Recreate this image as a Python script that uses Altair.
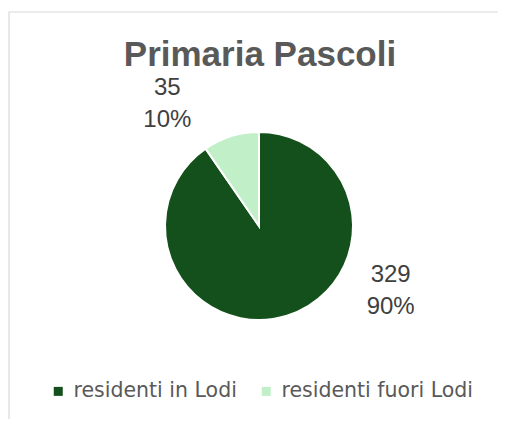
import altair as alt
import pandas as pd

categories = ["residenti in Lodi", "residenti fuori Lodi"]
counts = [329, 35]
percent_labels = ["90%", "10%"]
colors = ["#13501B", "#C1F0C8"]
title_text = "Primaria Pascoli"

df = pd.DataFrame({
    "categoria": categories,
    "valore": counts,
    "pct": percent_labels,
    "ordine": list(range(len(categories))),
})
df["etichetta"] = [f"{v}\n{p}" for v, p in zip(counts, percent_labels)]

W, H = 490, 411
CX, CY, R = 251, 218, 94
LABEL_R = 130

base = alt.Chart(df).encode(
    theta=alt.Theta("valore:Q", stack=True),
    order=alt.Order("ordine:Q"),
)

border = alt.Chart(pd.DataFrame({"b": [0]})).mark_rect(
    fillOpacity=0, stroke="#D9D9D9", strokeWidth=1.2
).encode(x=alt.value(1), y=alt.value(4), x2=alt.value(800), y2=alt.value(800))

pie = base.mark_arc(outerRadius=R, stroke="white", strokeWidth=2).encode(
    x=alt.value(CX),
    y=alt.value(CY),
    color=alt.Color(
        "categoria:N",
        scale=alt.Scale(domain=categories, range=colors),
        sort=categories,
        legend=alt.Legend(
            title=None,
            orient="none",
            legendX=40,
            legendY=373,
            direction="horizontal",
            symbolType="square",
            symbolSize=81,
            symbolStrokeWidth=0,
            labelFontSize=20.5,
            labelColor="#595959",
            labelFont="DejaVu Sans",
            labelOffset=5,
            columnPadding=19,
            labelLimit=400,
        ),
    ),
)

text_style = dict(
    radius=LABEL_R,
    fontSize=24,
    lineHeight=32,
    lineBreak="\n",
    align="center",
    baseline="middle",
    color="#404040",
    font="Liberation Sans",
)

label_out = base.transform_calculate(
    t=f"datum.categoria == '{categories[1]}' ? datum.etichetta : ''"
).mark_text(dx=-53, dy=-14, **text_style).encode(
    x=alt.value(CX), y=alt.value(CY), text="t:N"
)

label_in = base.transform_calculate(
    t=f"datum.categoria == '{categories[0]}' ? datum.etichetta : ''"
).mark_text(dx=93, dy=-75, **text_style).encode(
    x=alt.value(CX), y=alt.value(CY), text="t:N"
)

chart = alt.layer(border, pie, label_out, label_in).properties(
    width=W,
    height=H,
    padding=0,
    autosize=alt.AutoSizeParams(type="none"),
    title=alt.TitleParams(
        text=title_text,
        fontSize=35,
        fontWeight="bold",
        color="#595959",
        font="Liberation Sans",
        anchor="middle",
        offset=0,
        baseline="alphabetic",
        dy=93,
        dx=7,
    ),
).configure_view(strokeWidth=0)

chart.save("out.html", embed_options={"renderer": "svg", "actions": False})
